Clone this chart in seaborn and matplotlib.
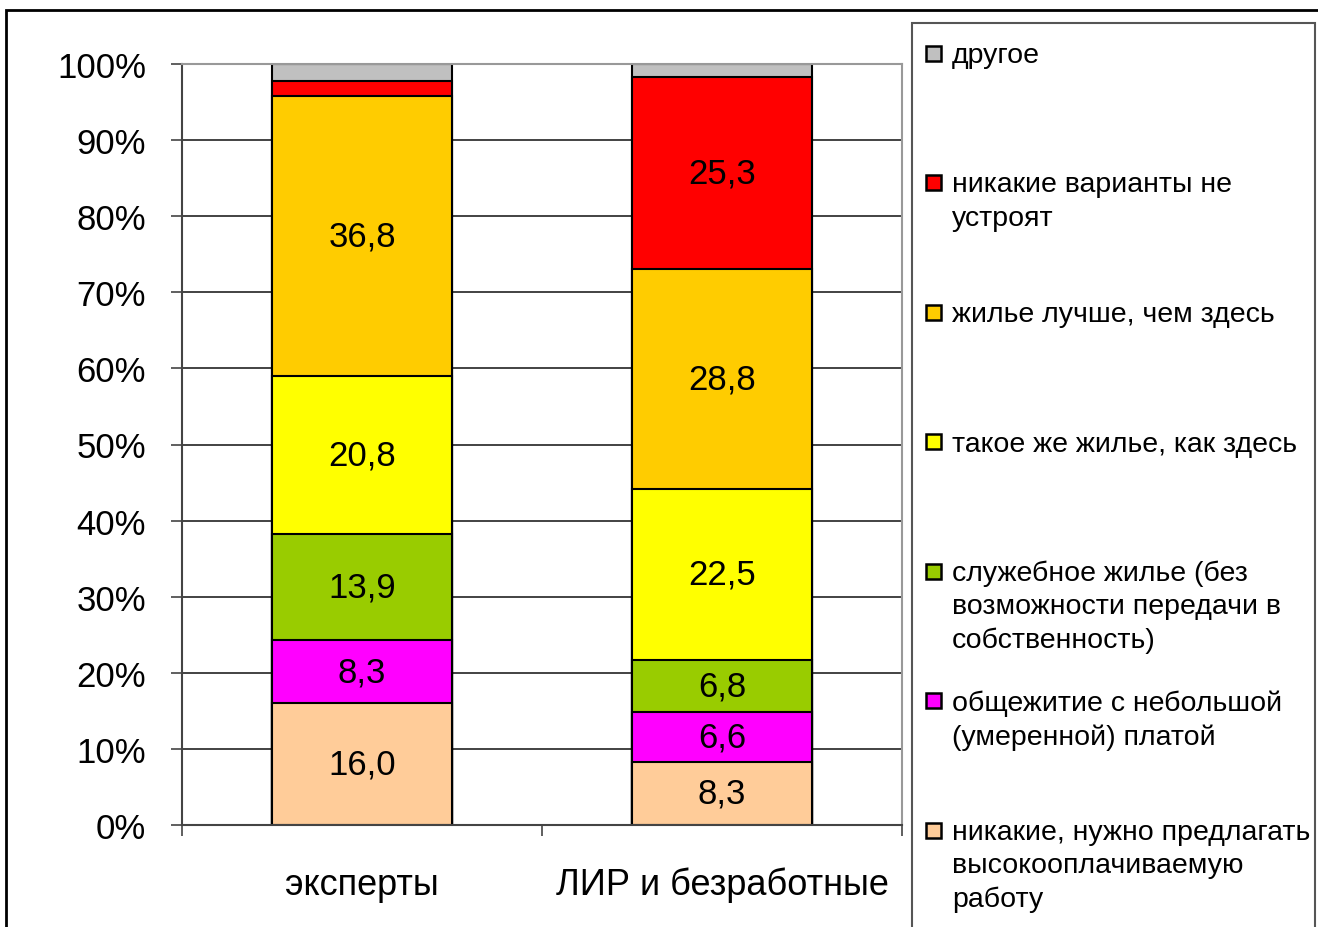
import matplotlib
matplotlib.use("Agg")
import numpy as np
import pandas as pd
import matplotlib.pyplot as plt
import seaborn as sns
from matplotlib.patches import Rectangle

groups = ["эксперты", "ЛИР и безработные"]

# series from bottom of the stack to top
series = [
    "никакие, нужно предлагать\nвысокооплачиваемую\nработу",
    "общежитие с небольшой\n(умеренной) платой",
    "служебное жилье (без\nвозможности передачи в\nсобственность)",
    "такое же жилье, как здесь",
    "жилье лучше, чем здесь",
    "никакие варианты не\nустроят",
    "другое",
]
experts = [16.0, 8.3, 13.9, 20.8, 36.8, 2.0, 2.2]
lir = [8.3, 6.6, 6.8, 22.5, 28.8, 25.3, 1.7]
colors = ["#FFCC99", "#FF00FF", "#99CC00", "#FFFF00", "#FFCC00", "#FF0000", "#C0C0C0"]

rows = []
for g, vals in zip(groups, [experts, lir]):
    cum = np.cumsum(vals)
    for s, v, top in zip(series, vals, cum):
        rows.append({"group": g, "series": s, "value": v, "top": top, "bottom": top - v})
df = pd.DataFrame(rows)

sns.set_theme(style="white")
plt.rcParams["font.family"] = ["Liberation Sans", "DejaVu Sans"]

fig = plt.figure(figsize=(13.18, 9.28), dpi=100)
ax = fig.add_axes([182 / 1318, 1 - 826 / 928, 720 / 1318, 761 / 928])

# draw tallest cumulative bars first, shorter ones on top
for s, c in reversed(list(zip(series, colors))):
    sns.barplot(data=df[df.series == s], x="group", y="top", order=groups,
                color=c, saturation=1, width=0.5, errorbar=None,
                edgecolor="black", linewidth=1.5, ax=ax)

for _, r in df.iterrows():
    if r.value >= 5:
        ax.text(groups.index(r.group), r.bottom + r.value / 2,
                f"{r.value:.1f}".replace(".", ","),
                ha="center", va="center", fontsize=25, color="black")

ax.set_xlim(-0.5, 1.5)
ax.set_ylim(0, 100)
ax.set_xlabel("")
ax.set_ylabel("")
ax.set_yticks(range(0, 101, 10))
ax.set_yticklabels([f"{t}%" for t in range(0, 101, 10)], fontsize=25)
ax.set_xticks([0, 1])
ax.set_xticklabels(groups, fontsize=26)
ax.set_xticks([-0.5, 0.5, 1.5], minor=True)
ax.tick_params(axis="y", which="major", direction="out", length=8, width=1.2,
               color="#444444", pad=18, left=True, labelcolor="black")
ax.tick_params(axis="x", which="major", length=0, pad=30, labelcolor="black")
ax.tick_params(axis="x", which="minor", direction="out", length=8, width=1.2,
               color="#444444", bottom=True)
ax.yaxis.grid(True, color="#222222", lw=1.2)
ax.set_axisbelow(True)
for side in ["left", "bottom"]:
    ax.spines[side].set_color("#444444")
    ax.spines[side].set_linewidth(1.5)
for side in ["top", "right"]:
    ax.spines[side].set_color("#999999")
    ax.spines[side].set_linewidth(1.5)

# outer chart frame
fig.patches.append(Rectangle((6 / 1318, -0.1), 1.2, 1.1 - 11 / 928, transform=fig.transFigure,
                             fill=False, edgecolor="black", lw=2))

# legend box and entries
fig.patches.append(Rectangle((912 / 1318, -0.1), (1315 - 912) / 1318, 1.1 - 24 / 928,
                             transform=fig.transFigure, fill=False,
                             edgecolor="#555555", lw=1.5))
for i, (lab, c) in enumerate(zip(series[::-1], colors[::-1])):
    y = 54 + 129.5 * i
    fig.patches.append(Rectangle((926 / 1318, 1 - (y + 7.5) / 928), 15 / 1318, 15 / 928,
                                 transform=fig.transFigure, facecolor=c,
                                 edgecolor="black", lw=1.8))
    fig.text(952 / 1318, 1 - (y - 11) / 928, lab, ha="left", va="top",
             fontsize=20.5, linespacing=1.35, color="black")

fig.savefig("out.png", dpi=100)
